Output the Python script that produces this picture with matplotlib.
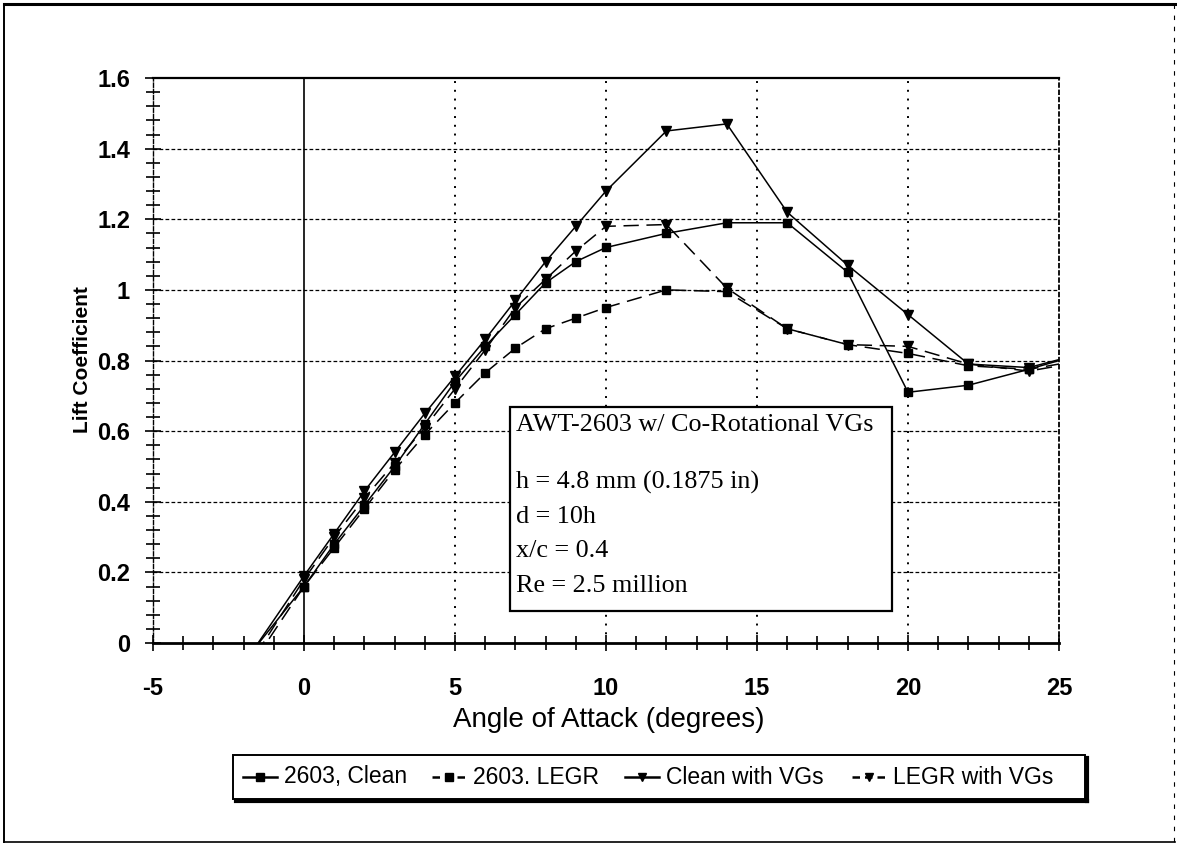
import matplotlib
matplotlib.use("Agg")
import matplotlib.pyplot as plt
from matplotlib.patches import Rectangle
from matplotlib.lines import Line2D
from matplotlib.ticker import MultipleLocator, FuncFormatter

# Angle of attack (deg) and lift coefficient for each configuration
alpha = [-2, 0, 1, 2, 3, 4, 5, 6, 7, 8, 9, 10, 12, 14, 16, 18, 20, 22, 24, 26]

cl_clean = [-0.054, 0.16, 0.28, 0.39, 0.50, 0.62, 0.74, 0.84, 0.93, 1.02, 1.08, 1.12,
            1.16, 1.19, 1.19, 1.05, 0.71, 0.73, 0.775, 0.825]
cl_legr = [-0.096, 0.16, 0.27, 0.38, 0.49, 0.59, 0.68, 0.765, 0.835, 0.89, 0.92, 0.95,
           1.00, 0.995, 0.89, 0.845, 0.82, 0.785, 0.775, 0.805]
cl_clean_vg = [-0.06, 0.19, 0.31, 0.43, 0.54, 0.65, 0.755, 0.86, 0.97, 1.08, 1.18, 1.28,
               1.45, 1.47, 1.22, 1.07, 0.93, 0.79, 0.78, 0.825]
cl_legr_vg = [-0.087, 0.18, 0.30, 0.41, 0.51, 0.61, 0.72, 0.83, 0.95, 1.03, 1.11, 1.18,
              1.185, 1.005, 0.89, 0.845, 0.84, 0.79, 0.77, 0.80]

series_labels = ["2603, Clean", "2603. LEGR", "Clean with VGs", "LEGR with VGs"]

x_ticks = [-5, 0, 5, 10, 15, 20, 25]
y_ticks = [0, 0.2, 0.4, 0.6, 0.8, 1.0, 1.2, 1.4, 1.6]

note_title = "AWT-2603 w/ Co-Rotational VGs"
note_lines = ["h = 4.8 mm (0.1875 in)", "d = 10h", "x/c = 0.4", "Re = 2.5 million"]

W, H = 1177, 844
fig = plt.figure(figsize=(W / 100, H / 100), dpi=100)
fig.patch.set_facecolor("white")

def fx(px):
    return px / W

def fy(py):
    return 1 - py / H

L, R, T, B = 153, 1059, 78, 643
ax = fig.add_axes([fx(L), fy(B), fx(R) - fx(L), fy(T) - fy(B)])
ax.set_xlim(x_ticks[0], x_ticks[-1])
ax.set_ylim(y_ticks[0], y_ticks[-1])

dash = (0, (10, 5))
styles = [
    dict(ls="-", marker="s", ms=6),
    dict(ls=dash, marker="s", ms=6),
    dict(ls="-", marker="v", ms=7),
    dict(ls=dash, marker="v", ms=7),
]
for ys, st, lab in zip([cl_clean, cl_legr, cl_clean_vg, cl_legr_vg], styles, series_labels):
    ax.plot(alpha, ys, color="black", lw=1.1, mfc="black", mec="black", label=lab,
            zorder=4, **st)

# grid: dashed horizontals, dotted verticals, solid line at zero incidence
for yv in y_ticks[1:-1]:
    ax.axhline(yv, color="black", lw=0.9, ls=(0, (3, 1.8)), zorder=1)
for xv in x_ticks[2:-1]:
    ax.axvline(xv, color="black", lw=1.4, ls=(0, (1, 3.5)), zorder=1)
ax.axvline(0, color="black", lw=1.2, zorder=1)

ax.spines["top"].set_linewidth(1.6)
ax.spines["bottom"].set_linewidth(2.0)
ax.spines["left"].set_linewidth(1.0)
ax.spines["left"].set_linestyle((0, (3, 1.5)))
ax.spines["right"].set_linewidth(1.3)
ax.spines["right"].set_linestyle((0, (2, 2)))

ax.xaxis.set_major_locator(MultipleLocator(5))
ax.xaxis.set_minor_locator(MultipleLocator(1))
ax.yaxis.set_major_locator(MultipleLocator(0.2))
ax.yaxis.set_minor_locator(MultipleLocator(0.04))
ax.tick_params(which="both", direction="inout", length=11, width=1.2, color="black")
ax.tick_params(which="minor", length=10)
ax.tick_params(axis="x", which="major", pad=19)
ax.tick_params(axis="y", which="major", pad=11)
ax.tick_params(top=False, right=False)

ax.yaxis.set_major_formatter(FuncFormatter(
    lambda v, p: "0" if abs(v) < 1e-9 else ("1" if abs(v - 1) < 1e-9 else f"{v:.1f}")))
ax.xaxis.set_major_formatter(FuncFormatter(lambda v, p: f"{v:.0f}"))
for lbl in ax.get_xticklabels() + ax.get_yticklabels():
    lbl.set_fontfamily("Liberation Sans")
    lbl.set_fontsize(17)
    lbl.set_fontweight("bold")

fig.text(fx(609), fy(720), "Angle of Attack (degrees)", family="Liberation Sans",
         fontsize=20, ha="center", va="center")
fig.text(fx(82), fy(360), "Lift Coefficient", family="Liberation Sans",
         fontweight="bold", fontsize=15, rotation=90, ha="center", va="center")

# annotation box with test conditions
bx0, by0, bx1, by1 = 510, 407, 892, 611
fig.patches.append(Rectangle((fx(bx0), fy(by1)), fx(bx1) - fx(bx0), fy(by0) - fy(by1),
                             transform=fig.transFigure, facecolor="white",
                             edgecolor="black", lw=1.6, zorder=5))
fig.text(fx(516), fy(425), note_title, family="Liberation Serif", fontsize=18.8,
         ha="left", va="center", zorder=6)
for i, line in enumerate(note_lines):
    fig.text(fx(516), fy(482 + i * 34.7), line, family="Liberation Serif", fontsize=18.8,
             ha="left", va="center", zorder=6)

# legend strip below the chart
lx0, ly0, lx1, ly1 = 233, 755, 1085, 799
fig.patches.append(Rectangle((fx(lx0), fy(ly1)), fx(lx1) - fx(lx0), fy(ly0) - fy(ly1),
                             transform=fig.transFigure, facecolor="white",
                             edgecolor="black", lw=1.4, zorder=5))
fig.add_artist(Line2D([fx(lx0 + 3), fx(lx1 + 2)], [fy(ly1 + 2), fy(ly1 + 2)],
                      transform=fig.transFigure, color="black", lw=3))
fig.add_artist(Line2D([fx(lx1 + 2), fx(lx1 + 2)], [fy(ly0 + 3), fy(ly1 + 2)],
                      transform=fig.transFigure, color="black", lw=3))
entry_x = [243, 432, 625, 852]
ly = fy((ly0 + ly1) / 2)
for ex, st, lab in zip(entry_x, styles, series_labels):
    ls = (0, (3, 2)) if st["ls"] != "-" else "-"
    fig.add_artist(Line2D([fx(ex), fx(ex + 34)], [ly, ly], transform=fig.transFigure,
                          color="black", lw=1.8, ls=ls, zorder=6))
    fig.add_artist(Line2D([fx(ex + 17)], [ly], transform=fig.transFigure, marker=st["marker"],
                          ms=5.5, color="black", zorder=6))
    fig.text(fx(ex + 41), ly, lab, family="Liberation Sans", fontsize=16.5,
             ha="left", va="center", zorder=6)

# page frame
fig.add_artist(Line2D([fx(4), fx(W - 2)], [fy(4), fy(4)], transform=fig.transFigure,
                      color="black", lw=2.2))
fig.add_artist(Line2D([fx(4), fx(4)], [fy(4), fy(H - 2)], transform=fig.transFigure,
                      color="black", lw=1.4))
fig.add_artist(Line2D([fx(4), fx(W - 2)], [fy(H - 2), fy(H - 2)], transform=fig.transFigure,
                      color="black", lw=1.2))
fig.add_artist(Line2D([fx(W - 3), fx(W - 3)], [fy(4), fy(H - 2)], transform=fig.transFigure,
                      color="black", lw=0.8, ls=(0, (4, 6))))

fig.savefig("out.png", dpi=100, facecolor="white")
